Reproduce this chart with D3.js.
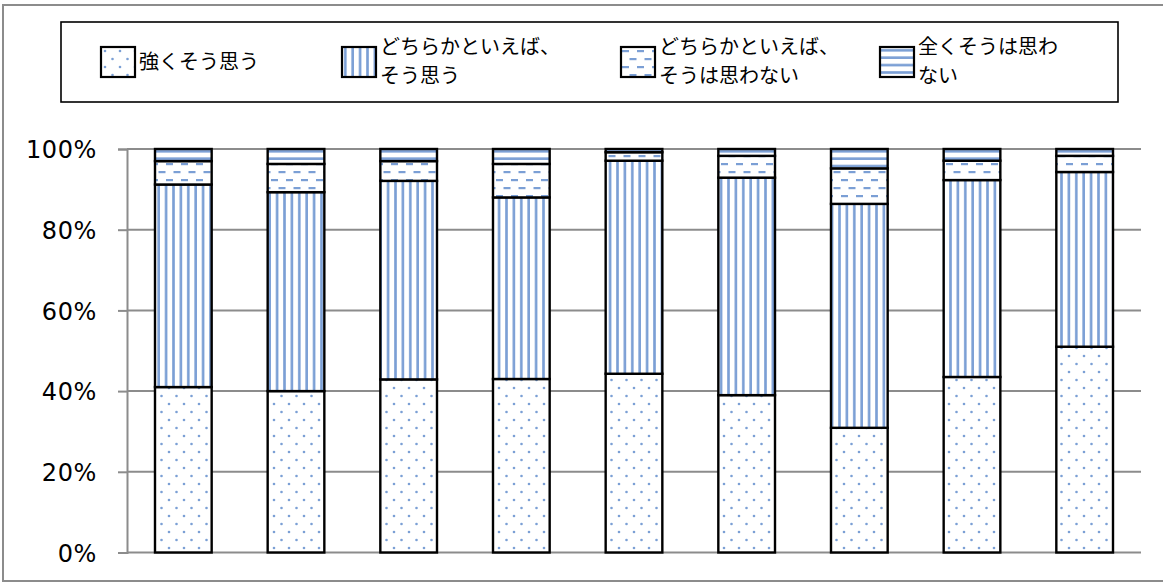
<!DOCTYPE html>
<html>
<head>
<meta charset="utf-8">
<script src="https://cdn.jsdelivr.net/npm/d3@7"></script>
<style>
  html, body { margin: 0; padding: 0; background: #fff; }
  svg { display: block; }
</style>
</head>
<body>
<svg id="chart"></svg>
<script>
// nine groups, no labels shown under the bars
const categories = ['1', '2', '3', '4', '5', '6', '7', '8', '9'];

const seriesKeys = ['strong', 'agree', 'disagree', 'notAtAll'];
const seriesLabels = [
  ['強くそう思う'],
  ['どちらかといえば、', 'そう思う'],
  ['どちらかといえば、', 'そうは思わない'],
  ['全くそうは思わ', 'ない'],
];

// percent values
const strong   = [41.0, 40.0, 42.9, 43.0, 44.3, 39.0, 30.9, 43.5, 51.0];
const agree    = [50.2, 49.3, 49.2, 45.0, 52.8, 53.9, 55.5, 48.8, 43.3];
const disagree = [5.8, 7.0, 4.9, 8.3, 2.1, 5.4, 8.8, 4.8, 4.0];
const notAtAll = [3.0, 3.7, 3.0, 3.7, 0.8, 1.7, 4.8, 2.9, 1.7];

const yTicks = [0, 20, 40, 60, 80, 100];

const width = 1163, height = 583;
const plot = { left: 127, right: 1141, top: 149, bottom: 552.5 };

const svg = d3.select('#chart')
  .attr('width', width)
  .attr('height', height);

// fill patterns
const defs = svg.append('defs');
const blue = '#7b9fd5';

const pDots = defs.append('pattern')
  .attr('id', 'p-strong').attr('patternUnits', 'userSpaceOnUse')
  .attr('width', 15).attr('height', 16);
pDots.append('rect').attr('width', 15).attr('height', 16).attr('fill', '#fff');
pDots.append('circle').attr('cx', 4).attr('cy', 4).attr('r', 1.3).attr('fill', blue);
pDots.append('circle').attr('cx', 11.5).attr('cy', 12).attr('r', 1.3).attr('fill', blue);

const pVert = defs.append('pattern')
  .attr('id', 'p-agree').attr('patternUnits', 'userSpaceOnUse')
  .attr('width', 7.4).attr('height', 10);
pVert.append('rect').attr('width', 7.4).attr('height', 10).attr('fill', '#fff');
pVert.append('rect').attr('x', 2).attr('width', 2.6).attr('height', 10).attr('fill', blue);

const pDash = defs.append('pattern')
  .attr('id', 'p-disagree').attr('patternUnits', 'userSpaceOnUse')
  .attr('width', 15).attr('height', 16);
pDash.append('rect').attr('width', 15).attr('height', 16).attr('fill', '#fff');
pDash.append('rect').attr('x', 1).attr('y', 3).attr('width', 7).attr('height', 2.2).attr('fill', blue);
pDash.append('rect').attr('x', 8.5).attr('y', 11).attr('width', 7).attr('height', 2.2).attr('fill', blue);
pDash.append('rect').attr('x', -6.5).attr('y', 11).attr('width', 7).attr('height', 2.2).attr('fill', blue);

const pHorz = defs.append('pattern')
  .attr('id', 'p-notAtAll').attr('patternUnits', 'userSpaceOnUse')
  .attr('width', 10).attr('height', 7.4);
pHorz.append('rect').attr('width', 10).attr('height', 7.4).attr('fill', '#fff');
pHorz.append('rect').attr('y', 2).attr('width', 10).attr('height', 2.6).attr('fill', blue);

// outer frame
svg.append('rect')
  .attr('x', 3).attr('y', 5)
  .attr('width', width + 10).attr('height', 576)
  .attr('fill', 'none')
  .attr('stroke', '#8c8c8c')
  .attr('stroke-width', 2);

// scales
const x = d3.scaleBand()
  .domain(categories)
  .range([plot.left, plot.right])
  .paddingInner(0.497)
  .paddingOuter(0.2485);

const y = d3.scaleLinear()
  .domain([0, 100])
  .range([plot.bottom, plot.top]);

// gridlines
svg.append('g')
  .selectAll('line')
  .data(yTicks)
  .join('line')
  .attr('x1', plot.left).attr('x2', plot.right)
  .attr('y1', d => y(d)).attr('y2', d => y(d))
  .attr('stroke', '#8c8c8c')
  .attr('stroke-width', 2);

// y axis
const yAxis = svg.append('g')
  .attr('transform', `translate(${plot.left},0)`)
  .call(d3.axisLeft(y).tickValues(yTicks).tickSize(9).tickPadding(21).tickFormat(d => d + '%'));
yAxis.select('.domain').attr('stroke', '#8c8c8c').attr('stroke-width', 2);
yAxis.selectAll('.tick line').attr('stroke', '#8c8c8c').attr('stroke-width', 2);
yAxis.selectAll('.tick text')
  .attr('fill', '#000')
  .attr('font-family', '"DejaVu Sans", Verdana, sans-serif')
  .attr('font-size', 24)
  .attr('letter-spacing', 0.6)
  .attr('dy', '0.36em');

// stacked bars
const rows = categories.map((c, i) => ({
  cat: c,
  strong: strong[i],
  agree: agree[i],
  disagree: disagree[i],
  notAtAll: notAtAll[i],
}));
const stacked = d3.stack().keys(seriesKeys)(rows);

svg.append('g')
  .selectAll('g')
  .data(stacked)
  .join('g')
  .attr('fill', d => `url(#p-${d.key})`)
  .selectAll('rect')
  .data(d => d)
  .join('rect')
  .attr('x', d => x(d.data.cat))
  .attr('width', x.bandwidth())
  .attr('y', d => y(d[1]))
  .attr('height', d => y(d[0]) - y(d[1]))
  .attr('stroke', '#000')
  .attr('stroke-width', 2.4);

// legend
svg.append('rect')
  .attr('x', 61).attr('y', 22)
  .attr('width', 1057).attr('height', 80)
  .attr('fill', '#fff')
  .attr('stroke', '#000')
  .attr('stroke-width', 1.6);

const legendX = [101, 342, 621, 880];
const legend = svg.append('g')
  .selectAll('g')
  .data(seriesKeys)
  .join('g')
  .attr('transform', (d, i) => `translate(${legendX[i]},47)`);

legend.append('rect')
  .attr('width', 34).attr('height', 30)
  .attr('fill', d => `url(#p-${d})`)
  .attr('stroke', '#000')
  .attr('stroke-width', 2.2);

// two-line labels get their own text elements, one per line
legend.each(function(d, i) {
  const lines = seriesLabels[i];
  const ys = lines.length === 1 ? [15] : [0, 29];
  d3.select(this).selectAll('text')
    .data(lines)
    .join('text')
    .attr('x', 38)
    .attr('y', (t, j) => ys[j])
    .attr('dy', '0.35em')
    .attr('font-family', '"Noto Sans CJK JP", sans-serif')
    .attr('font-size', 20)
    .attr('fill', '#000')
    .text(t => t);
});
</script>
</body>
</html>
